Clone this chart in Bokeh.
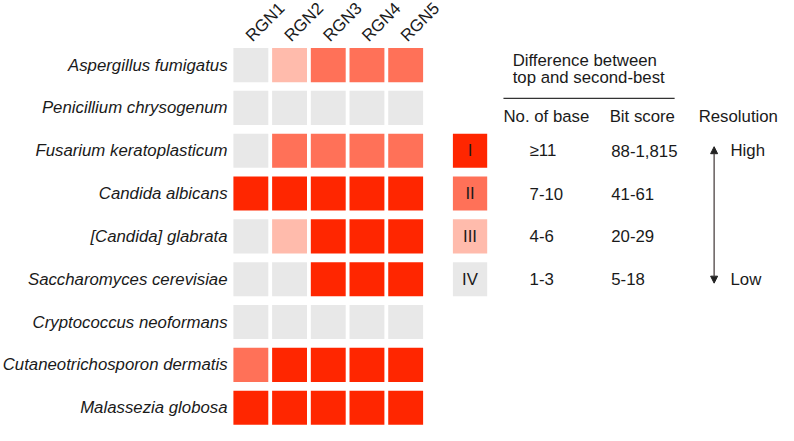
import math
from bokeh.plotting import figure
from bokeh.models import ColumnDataSource, Range1d, Arrow, NormalHead
from bokeh.core.properties import value
from bokeh.embed import file_html
from bokeh.resources import INLINE

# ---------------- data ----------------
species = [
    "Aspergillus fumigatus",
    "Penicillium chrysogenum",
    "Fusarium keratoplasticum",
    "Candida albicans",
    "[Candida] glabrata",
    "Saccharomyces cerevisiae",
    "Cryptococcus neoformans",
    "Cutaneotrichosporon dermatis",
    "Malassezia globosa",
]
regions = ["RGN1", "RGN2", "RGN3", "RGN4", "RGN5"]
# resolution level per cell (1 = I ... 4 = IV)
levels = [
    [4, 3, 2, 2, 2],
    [4, 4, 4, 4, 4],
    [4, 2, 2, 2, 2],
    [1, 1, 1, 1, 1],
    [4, 3, 1, 1, 1],
    [4, 4, 1, 1, 1],
    [4, 4, 4, 4, 4],
    [2, 1, 1, 1, 1],
    [1, 1, 1, 1, 1],
]
level_names = ["I", "II", "III", "IV"]
n_base = ["\u226511", "7-10", "4-6", "1-3"]
bit_score = ["88-1,815", "41-61", "20-29", "5-18"]
level_colors = ["#FF2600", "#FF7158", "#FFBBAC", "#E8E8E8"]

# ---------------- layout helpers (reference pixels -> data units) ----------------
X0, XP = 255.5, 39.5   # first column centre, column pitch
Y0, YP = 67.0, 44.44   # first row centre, row pitch


def dx(px):
    return (px - X0) / XP


def dy(py):
    return (py - Y0) / YP


FONT = value("Liberation Sans")
FS = "16.8px"
TXT = "#1a1a1a"

p = figure(width=778, height=425, output_backend="svg", toolbar_location=None,
           title_location=None,
           x_range=Range1d(dx(0), dx(794)), y_range=Range1d(dy(441), dy(0)),
           x_axis_location=None, y_axis_location=None, min_border=0,
           outline_line_color=None, background_fill_color="white")
p.grid.visible = False

# heatmap cells
xs, ys, cs = [], [], []
for r, row in enumerate(levels):
    for c, lv in enumerate(row):
        xs.append(c)
        ys.append(r)
        cs.append(level_colors[lv - 1])
src = ColumnDataSource(dict(x=xs, y=ys, color=cs))
p.rect(x="x", y="y", width=35.6 / XP, height=35.4 / YP, source=src,
       fill_color="color", line_color=None)

# species labels
p.text(x=[dx(231.7)] * len(species), y=list(range(len(species))), text=species,
       text_align="right", text_baseline="middle", text_font=FONT,
       text_font_size=FS, text_font_style="italic", text_color=TXT)

# region labels (rotated)
p.text(x=[c + dx(253.3) - dx(X0) for c in range(len(regions))],
       y=[dy(39.5)] * len(regions), text=regions, angle=math.pi / 4,
       text_align="left", text_baseline="alphabetic", text_font=FONT,
       text_font_size=FS, text_color=TXT)

# legend boxes
leg_rows = [2 + i for i in range(len(level_names))]
leg_x = dx(479.2)
p.rect(x=[leg_x] * 4, y=leg_rows, width=35 / XP, height=35.4 / YP,
       fill_color=level_colors, line_color=None)
p.text(x=[leg_x] * 4, y=leg_rows, text=level_names, text_align="center",
       text_baseline="middle", text_font=FONT, text_font_size=FS, text_color=TXT)

# legend table
p.text(x=[dx(540)] * 4, y=leg_rows, text=n_base, text_align="left",
       text_baseline="middle", text_font=FONT, text_font_size=FS, text_color=TXT)
p.text(x=[dx(623.3)] * 4, y=leg_rows, text=bit_score, text_align="left",
       text_baseline="middle", text_font=FONT, text_font_size=FS, text_color=TXT)

p.text(x=[dx(522.7), dx(522.7)], y=[dy(62.7), dy(80.0)],
       text=["Difference between", "top and second-best"], text_align="left",
       text_baseline="middle", text_font=FONT, text_font_size=FS, text_color=TXT)
p.line(x=[dx(513.3), dx(688)], y=[dy(101.5), dy(101.5)], line_color="#333333",
       line_width=1.2)
p.text(x=[dx(513.3), dx(621.7), dx(712.5)], y=[dy(120)] * 3,
       text=["No. of base", "Bit score", "Resolution"], text_align="left",
       text_baseline="middle", text_font=FONT, text_font_size=FS, text_color=TXT)

p.text(x=[dx(745), dx(745)], y=[leg_rows[0], leg_rows[-1]], text=["High", "Low"],
       text_align="left", text_baseline="middle", text_font=FONT,
       text_font_size=FS, text_color=TXT)

p.add_layout(Arrow(
    start=NormalHead(size=7, fill_color="#222222", line_color="#222222", line_width=1),
    end=NormalHead(size=7, fill_color="#222222", line_color="#222222", line_width=1),
    x_start=dx(728.3), y_start=dy(151.7), x_end=dx(728.3), y_end=dy(293.3),
    line_color="#4d4444", line_width=1.3))

open("out.html", "w").write(file_html(p, INLINE))
